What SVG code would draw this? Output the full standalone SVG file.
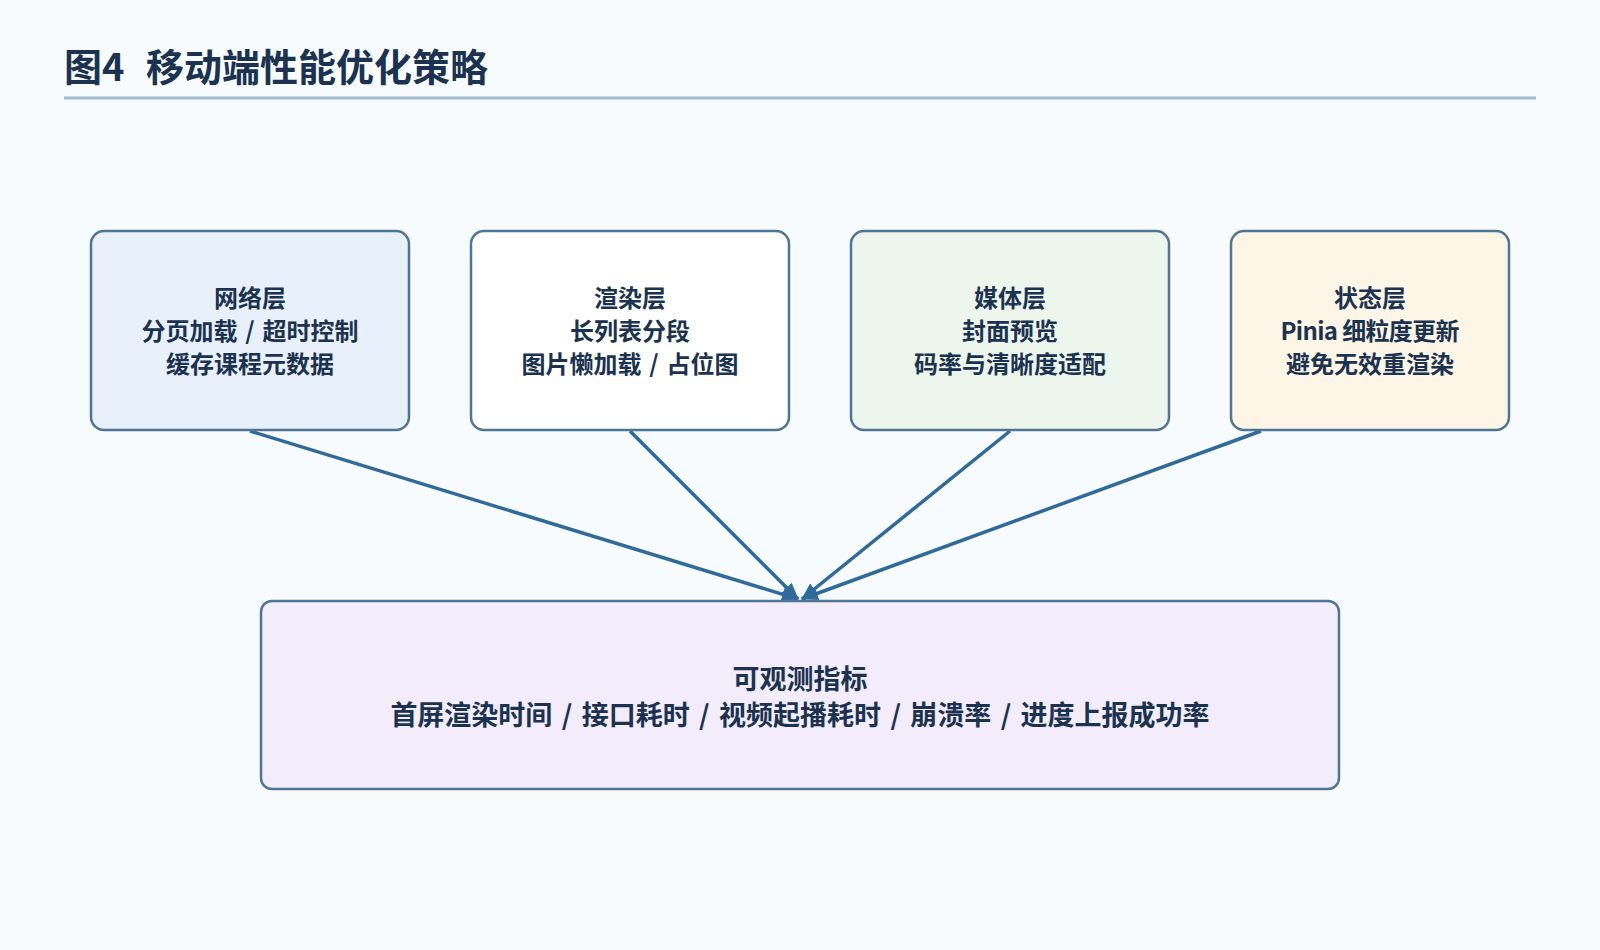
<svg xmlns="http://www.w3.org/2000/svg" width="1600" height="950" viewBox="0 0 1600 950">
<defs>
<style>
.bg{fill:#f8fbfd}
.node{stroke:#4f7595;stroke-width:2.5}
.t{font-family:"Noto Sans CJK SC","Noto Sans",sans-serif;font-weight:700;fill:#1b3350;text-anchor:middle}
.box{font-size:24px}
.big{font-size:27px}
.ws{word-spacing:2.5px}
.wsb{word-spacing:3.3px}
.title{font-family:"Noto Sans CJK SC","Noto Sans",sans-serif;font-weight:700;fill:#1b3350;font-size:38px}
.edge{stroke:#2e6b9c;stroke-width:3.5;fill:none;marker-end:url(#arr)}
</style>
<marker id="arr" markerUnits="userSpaceOnUse" markerWidth="20" markerHeight="16" refX="16" refY="7" orient="auto">
<path d="M0,0 L17,7 L0,14 Z" fill="#2e6b9c"/>
</marker>
</defs>
<rect class="bg" x="0" y="0" width="1600" height="950"/>
<g id="title">
<text class="title" y="81"><tspan x="64">图4</tspan><tspan x="146">移动端性能优化策略</tspan></text>
<line x1="64" y1="98" x2="1536" y2="98" stroke="#a5bccf" stroke-width="3"/>
</g>
<g id="connectors">
<line class="edge" x1="250" y1="431" x2="798" y2="599"/>
<line class="edge" x1="630" y1="431" x2="798" y2="599"/>
<line class="edge" x1="1010" y1="431" x2="802" y2="599"/>
<line class="edge" x1="1261" y1="431" x2="802" y2="599"/>
</g>
<g id="network">
<rect class="node" x="91" y="231" width="318" height="199" rx="13" fill="#e8f1fb"/>
<text class="t box" x="250" y="307">网络层</text>
<text class="t box ws" x="250" y="340">分页加载 / 超时控制</text>
<text class="t box" x="250" y="373">缓存课程元数据</text>
</g>
<g id="render">
<rect class="node" x="471" y="231" width="318" height="199" rx="13" fill="#ffffff"/>
<text class="t box" x="630" y="307">渲染层</text>
<text class="t box" x="630" y="340">长列表分段</text>
<text class="t box ws" x="630" y="373">图片懒加载 / 占位图</text>
</g>
<g id="media">
<rect class="node" x="851" y="231" width="318" height="199" rx="13" fill="#edf6ed"/>
<text class="t box" x="1010" y="307">媒体层</text>
<text class="t box" x="1010" y="340">封面预览</text>
<text class="t box" x="1010" y="373">码率与清晰度适配</text>
</g>
<g id="state">
<rect class="node" x="1231" y="231" width="278" height="199" rx="13" fill="#fdf6e7"/>
<text class="t box" x="1370" y="307">状态层</text>
<text class="t box" x="1370" y="340" textLength="179" lengthAdjust="spacing">Pinia 细粒度更新</text>
<text class="t box" x="1370" y="373">避免无效重渲染</text>
</g>
<g id="metrics">
<rect class="node" x="261" y="601" width="1078" height="188" rx="11" fill="#f3ecfa"/>
<text class="t big" x="800" y="689">可观测指标</text>
<text class="t big wsb" x="800" y="725">首屏渲染时间 / 接口耗时 / 视频起播耗时 / 崩溃率 / 进度上报成功率</text>
</g>
</svg>
